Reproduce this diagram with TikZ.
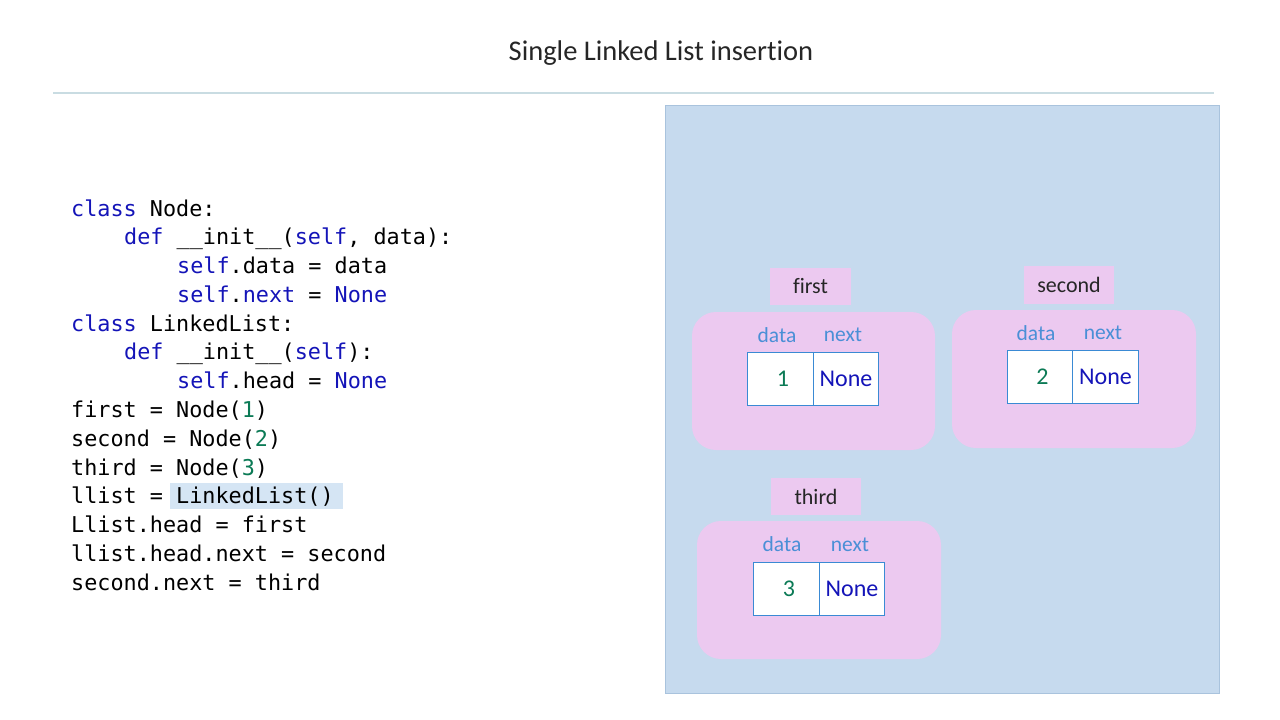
\documentclass[tikz,border=0pt]{standalone}
\usepackage{fontspec}
\setmainfont{Carlito}[Ligatures=NoCommon]
\newfontfamily\codefont{DejaVu Sans Mono}
\newfontfamily\titlefont{Carlito}[Ligatures=NoCommon]
\definecolor{kwblue}{HTML}{1414B8}
\definecolor{numgreen}{HTML}{0B7A55}
\definecolor{panelblue}{HTML}{C6DAEE}
\definecolor{panelborder}{HTML}{A9C3DD}
\definecolor{pinkfill}{HTML}{ECC9F0}
\definecolor{labelblue}{HTML}{4A8FD6}
\definecolor{cellborder}{HTML}{3A8AD4}
\definecolor{rulecol}{HTML}{C9DCE2}
\definecolor{hilite}{HTML}{D5E5F4}
\newcommand\kw[1]{\textcolor{kwblue}{#1}}
\newcommand\nm[1]{\textcolor{numgreen}{#1}}
\begin{document}
\begin{tikzpicture}[x=1pt,y=-1pt,
  codeline/.style={anchor=base west,inner sep=0pt,font=\codefont\fontsize{21.8}{26}\selectfont},
  namebox/.style={fill=pinkfill,inner sep=0pt,font=\fontsize{22}{26}\selectfont,text=black!85},
  holder/.style={fill=pinkfill,rounded corners=24pt,inner sep=0pt},
  cell/.style={draw=cellborder,line width=0.9pt,fill=white,minimum width=65.5pt,minimum height=53pt,inner sep=0pt,font=\fontsize{24}{28}\selectfont},
  fieldlbl/.style={inner sep=0pt,text=labelblue,font=\fontsize{21.5}{25}\selectfont}]
\useasboundingbox (0,0) rectangle (1280,720);
\fill[white] (0,0) rectangle (1280,720);
% title
\node[font=\titlefont\fontsize{28.5}{32}\selectfont,text=black!85] (title) at (661,53) {Single Linked List insertion};
\draw[rulecol,line width=1.5pt] (53,93) -- (1214,93);
% code
\fill[hilite] (170,483) rectangle (343,509);
\node[codeline] (c1) at (71,216) {\kw{class} Node:};
\node[codeline] (c2) at (124,244.8) {\kw{def} \_\_init\_\_(\kw{self}, data):};
\node[codeline] (c3) at (177,273.5) {\kw{self}.data = data};
\node[codeline] (c4) at (177,302.3) {\kw{self}.\kw{next} = \kw{None}};
\node[codeline] (c5) at (71,331.1) {\kw{class} LinkedList:};
\node[codeline] (c6) at (124,359.9) {\kw{def} \_\_init\_\_(\kw{self}):};
\node[codeline] (c7) at (177,388.6) {\kw{self}.head = \kw{None}};
\node[codeline] (c8) at (71,417.4) {first = Node(\nm{1})};
\node[codeline] (c9) at (71,446.2) {second = Node(\nm{2})};
\node[codeline] (c10) at (71,475) {third = Node(\nm{3})};
\node[codeline] (c11) at (71,503.7) {llist = LinkedList()};
\node[codeline] (c12) at (71,532.5) {Llist.head = first};
\node[codeline] (c13) at (71,561.3) {llist.head.next = second};
\node[codeline] (c14) at (71,590) {second.next = third};
% panel
\node[draw=panelborder,fill=panelblue,line width=0.8pt,minimum width=554pt,minimum height=588pt,inner sep=0pt] (panel) at (942,399) {};
% first
\node[namebox,minimum width=81pt,minimum height=37pt] (n1) at (810.5,286.5) {first};
\node[holder,minimum width=243pt,minimum height=138pt] (h1) at (813.5,381) {};
\node[fieldlbl] (l1d) at (777,335) {data};
\node[fieldlbl] (l1n) at (843,335) {next};
\node[cell,text=numgreen] (d1) at (780.5,378.5) {\hspace{5pt}1};
\node[cell,text=kwblue] (x1) at (846,378.5) {None};
% second
\node[namebox,minimum width=90pt,minimum height=38pt] (n2) at (1069,285) {second};
\node[holder,minimum width=244pt,minimum height=138pt] (h2) at (1074,379) {};
\node[fieldlbl] (l2d) at (1036,333) {data};
\node[fieldlbl] (l2n) at (1103,333) {next};
\node[cell,text=numgreen] (d2) at (1040,376.5) {\hspace{5pt}2};
\node[cell,text=kwblue] (x2) at (1105.5,376.5) {None};
% third
\node[namebox,minimum width=90pt,minimum height=37pt] (n3) at (816,496.5) {third};
\node[holder,minimum width=244pt,minimum height=138pt] (h3) at (819,590) {};
\node[fieldlbl] (l3d) at (782,544) {data};
\node[fieldlbl] (l3n) at (850,545) {next};
\node[cell,text=numgreen] (d3) at (786.5,588.5) {\hspace{5pt}3};
\node[cell,text=kwblue] (x3) at (852,588.5) {None};
\end{tikzpicture}
\end{document}
